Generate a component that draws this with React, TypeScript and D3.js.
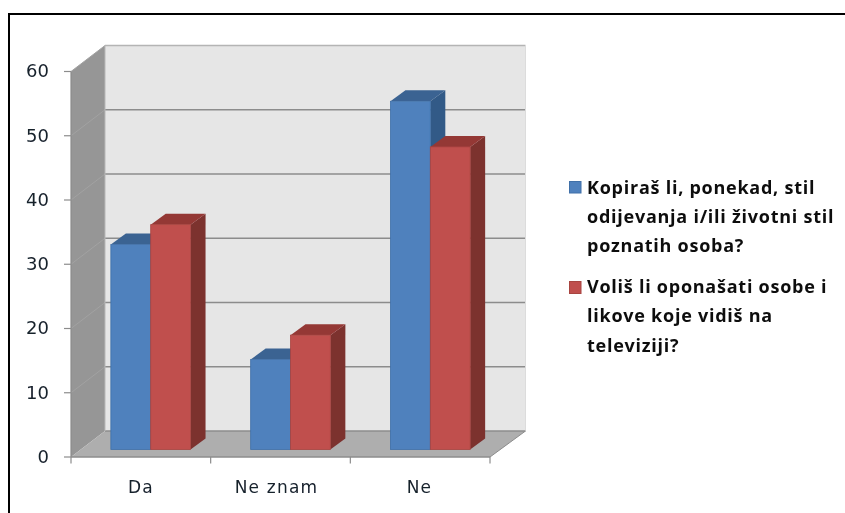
import React from "react";
import * as d3 from "d3";

const categories = ["Da", "Ne znam", "Ne"];
const seriesA = [31.9, 14, 54.2];
const seriesB = [35, 17.8, 47.1];
const yTicks = [0, 10, 20, 30, 40, 50, 60];
const legendA = ["Kopiraš li, ponekad, stil", "odijevanja i/ili životni stil", "poznatih osoba?"];
const legendB = ["Voliš li oponašati osobe i", "likove koje vidiš na", "televiziji?"];

const W = 845, H = 513;
const FONT = "'DejaVu Sans', sans-serif";
const x = d3.scaleBand<string>().domain(categories).range([71, 490]).paddingInner(0.43).paddingOuter(0.2135);
const y = d3.scaleLinear().domain([0, 60]).range([457, 71.5]);
const depth = { dx: 34, dy: -26 };
const barOff = { dx: 10, dy: -7.5 };
const barD = { dx: 15, dy: -11 };
const pts = (p: number[][]) => p.map((q) => q.join(",")).join(" ");

function Bar({ x0, w, v, front, top, side }: { x0: number; w: number; v: number; front: string; top: string; side: string }) {
  const l = x0 + barOff.dx, r = l + w;
  const b = y(0) + barOff.dy, t = y(v) + barOff.dy;
  const { dx, dy } = barD;
  return (
    <g>
      <polygon points={pts([[r, t], [r + dx, t + dy], [r + dx, b + dy], [r, b]])} fill={side} />
      <polygon points={pts([[l, t], [l + dx, t + dy], [r + dx, t + dy], [r, t]])} fill={top} />
      <rect x={l} y={t} width={w} height={b - t} fill={front} stroke={front === "#4f81bd" ? "#3f6fa8" : "#a84440"} strokeWidth={0.8} />
    </g>
  );
}

export default function App() {
  const [x0, x1] = x.range();
  const bw = x.bandwidth() / 2;
  const tickXs = [0, 1, 2, 3].map((i) => x0 + (i * (x1 - x0)) / 3);
  const bx = x1 + depth.dx + 1.5;
  return (
    <svg width={W} height={H} style={{ position: "absolute", left: 0, top: 0, background: "#fff" }} fontFamily={FONT}>
      <defs>
        <filter id="soft" x="-5%" y="-5%" width="110%" height="110%">
          <feGaussianBlur stdDeviation="0.5" />
        </filter>
      </defs>
      <g filter="url(#soft)">
        <polygon points={pts([[x0 + depth.dx, y(60) + depth.dy], [bx, y(60) + depth.dy], [bx, y(0) + depth.dy], [x0 + depth.dx, y(0) + depth.dy]])} fill="#e6e6e6" />
        <polygon points={pts([[x0, y(60)], [x0 + depth.dx, y(60) + depth.dy], [x0 + depth.dx, y(0) + depth.dy], [x0, y(0)]])} fill="#969696" />
        <polygon points={pts([[x0, y(0)], [x0 + depth.dx, y(0) + depth.dy], [bx, y(0) + depth.dy], [x1, y(0)]])} fill="#aeaeae" />
        {yTicks.map((t) => (
          <g key={t} fill="none">
            {t > 0 && <line x1={x0} y1={y(t)} x2={x0 + depth.dx} y2={y(t) + depth.dy} stroke="#a2a2a2" strokeWidth={1} />}
            <line x1={x0 + depth.dx} y1={y(t) + depth.dy} x2={bx} y2={y(t) + depth.dy} stroke={t === 60 ? "#b4b4b4" : "#8c8c8c"} strokeWidth={1.5} />
          </g>
        ))}
        <line x1={x0 + depth.dx} y1={y(60) + depth.dy} x2={x0 + depth.dx} y2={y(0) + depth.dy} stroke="#b8b8b8" strokeWidth={1} />
        <line x1={bx} y1={y(60) + depth.dy} x2={bx} y2={y(0) + depth.dy} stroke="#dcdcdc" strokeWidth={1} />
        <line x1={x0} y1={y(60)} x2={x0} y2={y(0)} stroke="#8c8c8c" strokeWidth={1.2} />
        <line x1={x0} y1={y(0)} x2={x1} y2={y(0)} stroke="#8c8c8c" strokeWidth={1.5} />
        <line x1={x1} y1={y(0)} x2={bx} y2={y(0) + depth.dy} stroke="#8c8c8c" strokeWidth={1} />
        {yTicks.map((t) => <line key={t} x1={x0 - 7} y1={y(t)} x2={x0} y2={y(t)} stroke="#8c8c8c" strokeWidth={1.2} />)}
        {tickXs.map((tx, i) => <line key={i} x1={tx} y1={y(0)} x2={tx} y2={y(0) + 6.5} stroke="#8c8c8c" strokeWidth={1.2} />)}
        {categories.map((c, i) => (
          <g key={c}>
            <Bar x0={x(c) as number} w={bw} v={seriesA[i]} front="#4f81bd" top="#3b6392" side="#335a87" />
            <Bar x0={(x(c) as number) + bw} w={bw} v={seriesB[i]} front="#c0504d" top="#943835" side="#7c302e" />
          </g>
        ))}
        <rect x={569.5} y={181.5} width={11.5} height={11.5} fill="#4f81bd" stroke="#3f6fa8" />
        <rect x={569.5} y={281.5} width={11.5} height={12} fill="#c0504d" stroke="#a84440" />
      </g>
      <rect x={9} y={14} width={W + 20} height={H + 20} fill="none" stroke="#000" strokeWidth={2} />
      <g filter="url(#soft)" fill="#16202c">
        {yTicks.map((t) => (
          <text key={t} x={49} y={y(t) - 0.5} dy="0.36em" textAnchor="end" fontSize={18}>{t}</text>
        ))}
        {categories.map((c, i) => (
          <text key={c} x={[141, 276.5, 419.5][i]} y={492.5} textAnchor="middle" fontSize={17} letterSpacing={1.2}>{c}</text>
        ))}
        <g fontSize={18} fontWeight={700} fill="#111" fontFamily="'Open Sans', sans-serif" letterSpacing={0.75}>
          {legendA.map((s, i) => <text key={s} x={587} y={[194, 223, 252][i]}>{s}</text>)}
          {legendB.map((s, i) => <text key={s} x={587} y={[293, 322, 352][i]}>{s}</text>)}
        </g>
      </g>
    </svg>
  );
}
